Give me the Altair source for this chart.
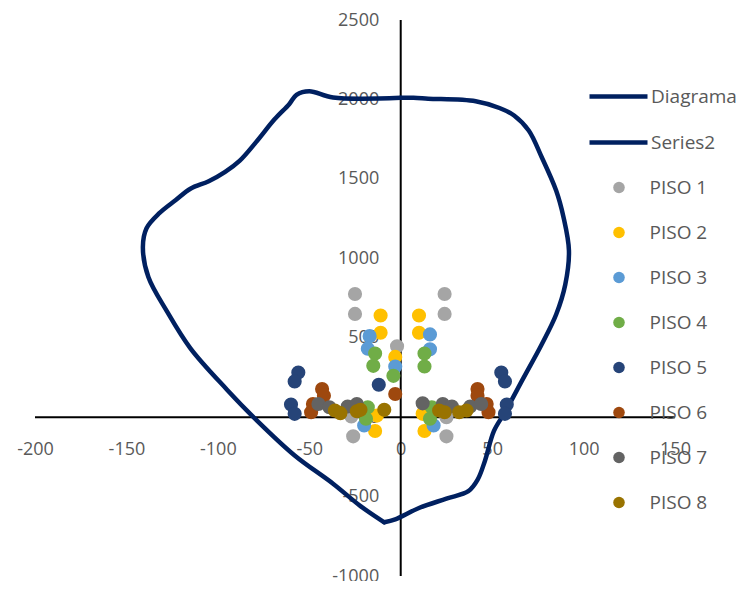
import altair as alt
import pandas as pd

# ---- data ----
# Interaction diagram: right branch (Diagrama) and left branch (Series2)
diag_x = [0, 7, 15, 41, 54, 62, 70, 77, 85, 89, 92, 90, 85, 77, 67, 57, 51, 46, 42, 37, 25, 10, -3, -9]
diag_y = [2010, 2010, 2005, 1989, 1946, 1899, 1804, 1639, 1426, 1260, 1048, 835, 646, 456, 244, 31, -87, -277, -395, -466, -513, -572, -643, -662]
s2_x = [-9, -22, -37, -58, -79, -95, -115, -128, -138, -141, -139, -132, -123, -115, -105, -96, -88, -79, -69, -61, -57, -50, -37, 0]
s2_y = [-662, -560, -419, -241, -17, 173, 433, 669, 882, 1071, 1189, 1284, 1367, 1438, 1485, 1544, 1615, 1733, 1875, 1970, 2029, 2052, 2012, 2010]

piso_names = ["PISO 1", "PISO 2", "PISO 3", "PISO 4", "PISO 5", "PISO 6", "PISO 7", "PISO 8"]
piso_colors = ["#A5A5A5", "#FFC000", "#5B9BD5", "#70AD47", "#264478", "#9E480E", "#636363", "#997300"]
p1_x = [-25, -25, -2, 24, 24, -26, 25, -27, 25]
p1_y = [775, 650, 446, 775, 650, -121, -121, 4, 0]
p2_x = [-11, -11, -3, 10, 10, -14, 13, -13, 12]
p2_y = [640, 531, 379, 640, 531, -87, -87, 10, 21]
p3_x = [-17, -18, -3, 16, 16, -20, 18]
p3_y = [510, 431, 319, 521, 427, -52, -52]
p4_x = [-14, -15, -4, 13, 13, -18, -19, 17, 16]
p4_y = [400, 323, 260, 400, 319, 62, -10, 62, -10]
p5_x = [-56, -58, -60, -58, -12, 55, 57, 58, 57]
p5_y = [281, 225, 79, 21, 204, 281, 225, 79, 21]
p6_x = [-43, -42, -48, -49, -3, 42, 42, 47, 48]
p6_y = [177, 135, 83, 31, 146, 177, 135, 83, 31]
p7_x = [-45, -39, -29, -24, 12, 23, 28, 38, 44]
p7_y = [83, 62, 67, 83, 87, 83, 67, 67, 83]
p8_x = [-36, -33, -24, -22, -9, 21, 24, 32, 36]
p8_y = [42, 25, 37, 46, 46, 42, 31, 31, 42]

x_ticks = [-200, -150, -100, -50, 0, 50, 100, 150]
y_ticks = [-1000, -500, 0, 500, 1000, 1500, 2000, 2500]

# ---- tables ----
line_rows = []
for i, (x, y) in enumerate(zip(diag_x, diag_y)):
    line_rows.append({"serie": "Diagrama", "i": i, "x": x, "y": y})
for i, (x, y) in enumerate(zip(s2_x, s2_y)):
    line_rows.append({"serie": "Series2", "i": i, "x": x, "y": y})
lines_df = pd.DataFrame(line_rows)

pts = [(p1_x, p1_y), (p2_x, p2_y), (p3_x, p3_y), (p4_x, p4_y),
       (p5_x, p5_y), (p6_x, p6_y), (p7_x, p7_y), (p8_x, p8_y)]
pt_rows = []
for name, (xs_, ys_) in zip(piso_names, pts):
    for x, y in zip(xs_, ys_):
        pt_rows.append({"piso": name, "x": x, "y": y})
pts_df = pd.DataFrame(pt_rows)

W, H = 640, 556
xmin, xmax = -200, 150
ymin, ymax = -1000, 2500
x_off = -(W * (0 - xmin) / (xmax - xmin))
y_off = -(H * (0 - ymin) / (ymax - ymin))

xs = alt.Scale(domain=[xmin, xmax], nice=False, zero=False)
ys = alt.Scale(domain=[ymin, ymax], nice=False, zero=False)
FONT = "Open Sans"
LBL = "#595959"
LABEL_EXPR = "'' + datum.value"

x_axis = alt.Axis(values=x_ticks, domain=False, ticks=False, grid=False, offset=y_off,
                  labelPadding=23, labelFontSize=18, labelColor=LBL, labelFont=FONT,
                  labelExpr=LABEL_EXPR,
                  labelFlush=False, labelOverlap=False, title=None)
y_axis = alt.Axis(values=y_ticks, domain=False, ticks=False, grid=False, offset=x_off,
                  labelPadding=22, labelFontSize=18, labelColor=LBL, labelFont=FONT,
                  labelExpr=LABEL_EXPR,
                  labelFlush=False, labelOverlap=False, title=None)

hrule_df = pd.DataFrame({"x": [xmin], "x2": [xmax], "y": [0]})
vrule_df = pd.DataFrame({"x": [0], "y": [ymin], "y2": [ymax]})

hrule = alt.Chart(hrule_df).mark_rule(color="black", strokeWidth=2).encode(
    x=alt.X("x:Q", scale=xs, axis=x_axis), x2="x2:Q", y=alt.Y("y:Q", scale=ys, axis=y_axis))
vrule = alt.Chart(vrule_df).mark_rule(color="black", strokeWidth=2).encode(
    x=alt.X("x:Q", scale=xs), y=alt.Y("y:Q", scale=ys), y2="y2:Q")

lines = alt.Chart(lines_df).mark_line(strokeWidth=4.5, strokeCap="round", strokeJoin="round",
                                      interpolate="catmull-rom").encode(
    x=alt.X("x:Q", scale=xs),
    y=alt.Y("y:Q", scale=ys),
    order="i:Q",
    stroke=alt.Stroke("serie:N",
                      scale=alt.Scale(domain=["Diagrama", "Series2"], range=["#002060", "#002060"]),
                      legend=alt.Legend(orient="none", legendX=552, legendY=45, title=None,
                                        symbolType="stroke", symbolSize=3364, symbolStrokeWidth=4.5,
                                        labelFontSize=19, labelFont=FONT, labelColor=LBL,
                                        labelOffset=1, rowPadding=4)),
)

points = alt.Chart(pts_df).mark_circle(size=200, opacity=1, strokeWidth=0).encode(
    x=alt.X("x:Q", scale=xs),
    y=alt.Y("y:Q", scale=ys),
    fill=alt.Fill("piso:N", scale=alt.Scale(domain=piso_names, range=piso_colors),
                  legend=alt.Legend(orient="none", legendX=574.5, legendY=158, title=None,
                                    symbolType="circle", symbolSize=133, symbolStrokeWidth=0,
                                    symbolOpacity=1,
                                    labelFontSize=19, labelFont=FONT, labelColor=LBL,
                                    labelOffset=21, rowPadding=25)),
)

chart = alt.layer(hrule, vrule, lines, points).properties(
    width=W, height=H,
    autosize=alt.AutoSizeParams(type="none"),
    padding={"left": 27, "top": 12, "right": 61, "bottom": 5},
).configure(font=FONT).configure_view(stroke=None, strokeWidth=0)

chart.save("out.html", embed_options={"renderer": "svg", "actions": False})
